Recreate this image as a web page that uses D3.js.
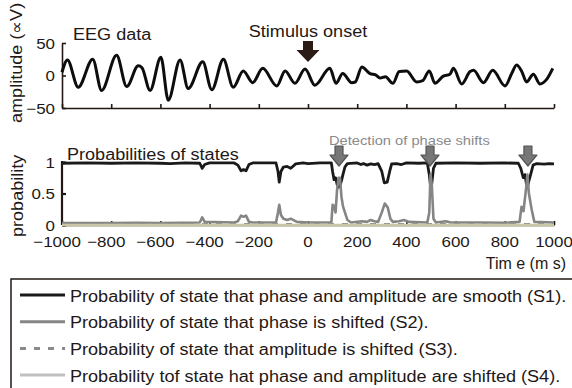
<!DOCTYPE html>
<html><head><meta charset="utf-8">
<script src="https://cdn.jsdelivr.net/npm/d3@7"></script>
<style>
html,body{margin:0;padding:0;background:#fff;}
svg{display:block;font-family:"Liberation Sans",Arial,sans-serif;}
</style></head>
<body>
<svg id="chart" width="572" height="388"></svg>
<script>
// ---------------- DATA ----------------
const timeTicks = [-1000,-800,-600,-400,-200,0,200,400,600,800,1000];
const ampTicks = [-50,0,50];
const probTicks = [0,0.5,1];

const eegTime  = [-1000,-978,-934,-875,-839,-778,-737,-690,-675,-642,-598,-568,-520,-487,-428,-391,-344,-304,-263,-225,-184,-127,-93,-53,-12,28,89,114,141,178,192,219,252,275,293,315,345,371,401,442,466,493,516,550,577,591,625,659,673,713,751,801,828,848,868,889,916,943,970,995];
const eegValue = [5,24,-18,25,-23,31,-17,15,12,-23,28,-38,24,-20,21,-22,25,-18,7,-11,11,-16,7,-12,10,-15,11,-12,3,-11,-10,13,3,1,-4,-2,-12,6,7,-10,-8,7,-12,-1,2,11,-13,6,8,-11,8,-16,3,16,7,-10,2,-13,-6,11];

const s1Time  = [-1000,-900,-800,-700,-600,-560,-500,-440,-430,-420,-400,-300,-285,-272,-262,-252,-240,-225,-130,-122,-117,-110,-100,-85,-70,-50,-20,0,50,95,100,106,112,118,124,130,136,142,150,160,200,215,225,240,255,270,285,300,310,322,332,340,360,380,400,450,485,493,498,503,510,520,600,700,800,855,865,875,882,888,893,898,905,915,930,960,980,1000];
const s1Value = [0.98,0.985,0.98,0.985,0.98,0.975,0.985,0.98,0.9,0.96,0.985,0.985,0.95,0.86,0.88,0.86,0.96,0.985,0.985,0.85,0.68,0.85,0.92,0.93,0.9,0.97,0.985,0.975,0.985,0.985,0.85,0.72,0.75,0.65,0.6,0.62,0.7,0.8,0.92,0.975,0.985,0.96,0.975,0.95,0.97,0.96,0.975,0.85,0.67,0.68,0.85,0.97,0.975,0.96,0.985,0.98,0.985,0.8,0.62,0.65,0.9,0.98,0.985,0.98,0.985,0.98,0.9,0.75,0.8,0.65,0.62,0.7,0.8,0.95,0.975,0.965,0.975,0.97];

const s2Time  = [-1000,-800,-700,-600,-440,-430,-420,-300,-285,-272,-262,-252,-240,-225,-130,-122,-117,-110,-100,-85,-70,-55,-45,0,95,100,106,112,118,124,130,136,142,150,160,175,220,240,255,270,285,300,312,324,335,345,370,390,410,485,493,498,503,510,520,560,580,700,800,860,868,876,886,892,898,909,920,1000];
const s2Value = [0.03,0.03,0.035,0.03,0.04,0.12,0.05,0.04,0.06,0.15,0.13,0.15,0.05,0.04,0.04,0.2,0.32,0.16,0.1,0.08,0.1,0.07,0.05,0.04,0.04,0.32,0.3,0.2,0.55,0.75,0.75,0.45,0.3,0.2,0.08,0.04,0.06,0.05,0.08,0.06,0.05,0.2,0.34,0.28,0.1,0.05,0.06,0.08,0.05,0.04,0.2,0.8,0.65,0.1,0.04,0.06,0.04,0.04,0.035,0.05,0.29,0.22,0.56,0.8,0.5,0.25,0.05,0.04];

const s3Time  = [-1000,0,1000];
const s3Value = [0.01,0.01,0.01];
const s4Time  = [-1000,0,1000];
const s4Value = [0.0,0.0,0.0];

const phaseShiftTimes = [126,496,894];
const stimulusTime = 0;

const legendLabels = [
  "Probability of state that phase and amplitude are smooth (S1).",
  "Probability of state that phase is shifted (S2).",
  "Probability of state that amplitude is shifted (S3).",
  "Probability tof state hat phase and amplitude are shifted (S4)."
];

// ---------------- STYLE ----------------
const TXT = "#231815";
const SX = 1.13;
const seriesStyle = [
  {color:"#1a1a1a", width:2.8, dash:null},
  {color:"#858585", width:2.6, dash:null},
  {color:"#8a8a8a", width:2.6, dash:"6,8"},
  {color:"#c8c6a6", width:2.6, dash:null}
];

const svg = d3.select("#chart");

const x = d3.scaleLinear().domain([-1000,1000]).range([62,554]);
const yAmp = d3.scaleLinear().domain([-50,50]).range([108,43]);
const yProb = d3.scaleLinear().domain([0,1]).range([225,162]);

function label(parent, s, px, py, o={}) {
  const size = o.size || 16, anchor = o.anchor || "start", sx = o.sx || SX;
  return parent.append("text")
    .attr("transform", `translate(${px},${py})` + (o.rotate ? ` rotate(${o.rotate})` : "") + ` scale(${sx},1)`)
    .attr("text-anchor", anchor)
    .style("font-size", size + "px")
    .attr("fill", o.fill || TXT)
    .text(s);
}
function measure(s, size) {
  const t = svg.append("text").style("font-size", size + "px").text(s);
  const w = t.node().getComputedTextLength();
  t.remove();
  return w;
}
function numLabel(v) {
  const s = String(Math.abs(v));
  return v < 0 ? "\u2212" + s : s;
}

// ---------------- TOP PANEL (EEG) ----------------
const gTop = svg.append("g");
const axL = gTop.append("g").attr("transform", "translate(62,0)")
  .call(d3.axisLeft(yAmp).tickValues(ampTicks).tickSize(-4).tickSizeOuter(0).tickFormat(""));
const axB = gTop.append("g").attr("transform", "translate(0,108)")
  .call(d3.axisBottom(x).tickValues(timeTicks).tickSize(-4).tickSizeOuter(0).tickFormat(""));
[axL, axB].forEach(a => {
  a.selectAll("path,line").attr("stroke", TXT).attr("stroke-width", 1.6);
});
ampTicks.forEach(v => label(gTop, numLabel(v), 55, yAmp(v) + 5.5, {size:15, anchor:"end"}));

const eegLine = d3.line().x((d,i) => x(eegTime[i])).y(d => yAmp(d)).curve(d3.curveMonotoneX);
gTop.append("path").attr("d", eegLine(eegValue))
  .attr("fill","none").attr("stroke","#0d0d0d").attr("stroke-width",3).attr("stroke-linejoin","round");

label(gTop, "amplitude (\u221DV)", 22, 123, {rotate:-90});
label(gTop, "EEG data", 73, 40);
label(gTop, "Stimulus onset", x(stimulusTime), 37, {anchor:"middle"});

// stimulus arrow
{
  const cx = x(stimulusTime);
  const pts = [[cx-5,41],[cx+5,41],[cx+5,50],[cx+11.5,50],[cx,62],[cx-11.5,50],[cx-5,50]];
  gTop.append("path").attr("d", d3.line()(pts) + "Z").attr("fill", "#2b1b17");
}

// ---------------- BOTTOM PANEL (probabilities) ----------------
const gBot = svg.append("g");
const axL2 = gBot.append("g").attr("transform", "translate(62,0)")
  .call(d3.axisLeft(yProb).tickValues(probTicks).tickSize(-4).tickSizeOuter(0).tickFormat(""));
const axB2 = gBot.append("g").attr("transform", "translate(0,225)")
  .call(d3.axisBottom(x).tickValues(timeTicks).tickSize(-4).tickSizeOuter(0).tickFormat(""));
axL2.selectAll("path,line").attr("stroke", TXT).attr("stroke-width", 2.2);
axB2.selectAll("path,line").attr("stroke", TXT).attr("stroke-width", 1.6);
axL2.select("path").attr("d", "M0,161V225");

probTicks.forEach(v => label(gBot, String(v), 55, yProb(v) + 5.5, {size:15, anchor:"end"}));
timeTicks.forEach(v => {
  const dw = measure(String(Math.abs(v)), 15) * SX;
  label(gBot, numLabel(v), x(v) + dw/2, 247, {size:15, anchor:"end"});
});

const series = [[s1Time,s1Value],[s2Time,s2Value],[s3Time,s3Value],[s4Time,s4Value]];
series.forEach(([ts, vs], k) => {
  const ln = d3.line().x((d,i) => x(ts[i])).y(d => yProb(d));
  const st = seriesStyle[k];
  const p = gBot.append("path").attr("d", ln(vs)).attr("fill","none")
    .attr("stroke", st.color).attr("stroke-width", st.width).attr("stroke-linejoin","round");
  if (st.dash) p.attr("stroke-dasharray", st.dash);
});

label(gBot, "probability", 23, 237, {rotate:-90});
label(gBot, "Probabilities of states", 67, 160);
label(gBot, "Detection of phase shifts", 329, 145, {size:13, fill:"#8a8a8a"});
label(gBot, "Tim e (m s)", 566, 269, {anchor:"end", sx:1.0});

phaseShiftTimes.forEach(t => {
  const cx = x(t);
  const pts = [[cx-4,146],[cx+4,146],[cx+4,155],[cx+9,155],[cx,166],[cx-9,155],[cx-4,155]];
  gBot.append("path").attr("d", d3.line()(pts) + "Z")
    .attr("fill", "#777").attr("stroke", "#555").attr("stroke-width", 1.2).attr("stroke-linejoin","round");
});

// ---------------- LEGEND ----------------
const gLeg = svg.append("g");
gLeg.append("rect").attr("x",11).attr("y",279).attr("width",600).attr("height",140)
  .attr("fill","#fff").attr("stroke",TXT).attr("stroke-width",1.5);
legendLabels.forEach((s, i) => {
  const yy = 295 + i*26.7;
  const st = seriesStyle[i];
  const legColor = i === 3 ? "#c0c0c0" : st.color;
  const l = gLeg.append("line").attr("x1",20).attr("x2",65).attr("y1",yy).attr("y2",yy)
    .attr("stroke", legColor).attr("stroke-width", 3);
  if (st.dash) l.attr("stroke-dasharray", st.dash);
  label(gLeg, s, 70, yy + 6.5);
});
</script>
</body></html>
